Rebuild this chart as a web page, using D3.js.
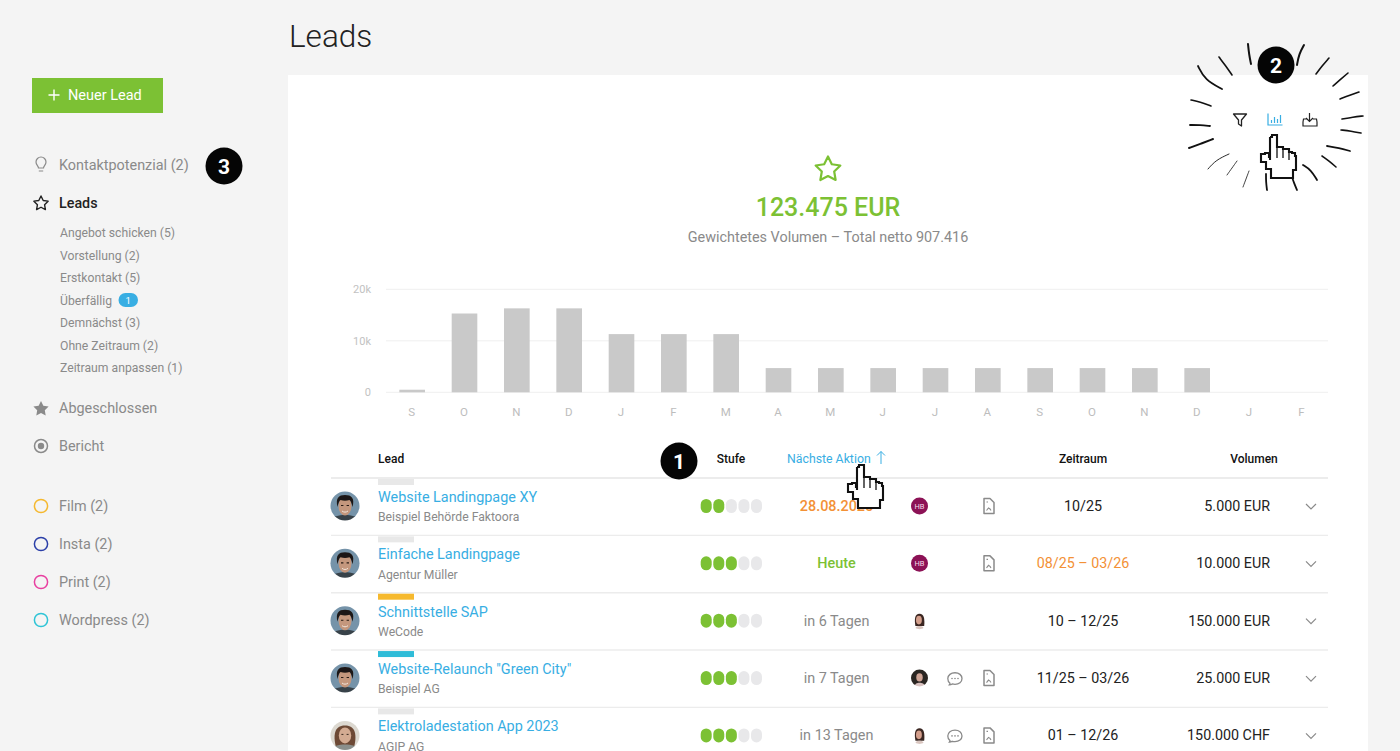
<!DOCTYPE html>
<html lang="de">
<head>
<meta charset="utf-8">
<title>Leads</title>
<script src="https://cdn.jsdelivr.net/npm/d3@7"></script>
<style>
html, body { margin: 0; padding: 0; background: #f4f4f4; overflow: hidden; }
svg { display: block; }
text { font-family: Roboto, "Open Sans", sans-serif; }
.axis path { display: none; }
</style>
</head>
<body>
<div id="chart"></div>
<script>
// chart values
var months = ["S","O","N","D","J","F","M","A","M","J","J","A","S","O","N","D","J","F"];
var volumes = [500,15300,16300,16300,11300,11300,11300,4700,4700,4700,4700,4700,4700,4700,4700,4700,0,0];
var yTicks = [0,10000,20000];

// table
var leadNames = ["Website Landingpage XY","Einfache Landingpage","Schnittstelle SAP",'Website-Relaunch "Green City"',"Elektroladestation App 2023"];
var leadCompanies = ["Beispiel Behörde Faktoora","Agentur Müller","WeCode","Beispiel AG","AGIP AG"];
var leadTags = ["#e8e8e8","#e8e8e8","#f6b92e","#2fbcd8","#e8e8e8"];
var leadSteps = [2,3,3,3,3];
var leadActions = ["28.08.2025","Heute","in 6 Tagen","in 7 Tagen","in 13 Tagen"];
var actionColors = ["#f39136","#7cc134","#8a8a8a","#8a8a8a","#8a8a8a"];
var leadOwners = ["hb","hb","woman","dark","woman"];
var hasComment = [false,false,false,true,true];
var hasDoc = [true,true,false,true,true];
var leadPeriods = ["10/25","08/25 – 03/26","10 – 12/25","11/25 – 03/26","01 – 12/26"];
var periodColors = ["#222","#f39136","#222","#222","#222"];
var leadVolumes = ["5.000 EUR","10.000 EUR","150.000 EUR","25.000 EUR","150.000 CHF"];
var leadAvatars = ["man","man","man","man","lady"];

// sidebar
var subItems = ["Angebot schicken (5)","Vorstellung (2)","Erstkontakt (5)","Überfällig","Demnächst (3)","Ohne Zeitraum (2)","Zeitraum anpassen (1)"];
var tagItems = ["Film (2)","Insta (2)","Print (2)","Wordpress (2)"];
var tagColors = ["#f5b82e","#2b3fa8","#e83fa0","#2ec4d6"];

var green = "#7cc134", blue = "#38aee3", grey = "#8a8a8a";

var svg = d3.select("#chart").append("svg").attr("width",1400).attr("height",751);

svg.append("filter").attr("id","soft").append("feGaussianBlur").attr("stdDeviation",0.5);

svg.append("rect").attr("width",1400).attr("height",751).attr("fill","#f4f4f4");
svg.append("rect").attr("x",288).attr("y",75).attr("width",1080).attr("height",676).attr("fill","#fff");

function label(parent,x,y,txt,size,color,weight,anchor){
	return parent.append("text").attr("x",x).attr("y",y).attr("dy","0.35em")
	.attr("font-size",size).attr("fill",color).attr("font-weight",weight||400)
	.attr("text-anchor",anchor||"start").text(txt);
}

// five pointed star with fat arms, r = outer radius
function starPath(r){
	var pts = d3.range(10).map(function(i){
		var a = i*Math.PI/5;
		return [a, i%2 ? r*0.5 : r];
	});
	return d3.lineRadial().curve(d3.curveLinearClosed)(pts);
}

label(svg,289,36,"Leads",31.5,"#222",300);

// ---- sidebar ----
svg.append("rect").attr("x",32).attr("y",78).attr("width",131).attr("height",35).attr("fill",green);
svg.append("path").attr("d","M48.5 95h11M54 89.5v11").attr("stroke","#fff").attr("stroke-width",1.4);
label(svg,68,95,"Neuer Lead",14.5,"#fff");

label(svg,59,165,"Kontaktpotenzial (2)",14.4,grey);
label(svg,59,203,"Leads",14.3,"#222",500);
label(svg,59,408,"Abgeschlossen",14.4,grey);
label(svg,59,446,"Bericht",14.4,grey);

// bulb
svg.append("path").attr("d","M38.5 168c0-2-2.500-3-2.500-6a5 5 0 0 1 10 0c0 3-2.500 4-2.500 6zM38.800 171h4.400")
.attr("fill","none").attr("stroke",grey).attr("stroke-width",1.2);

svg.append("path").attr("d",starPath(7.5)).attr("transform","translate(41,203.5)")
.attr("fill","none").attr("stroke","#222").attr("stroke-width",1.4).attr("stroke-linejoin","round");
svg.append("path").attr("d",starPath(8)).attr("transform","translate(41,409)").attr("fill",grey);
svg.append("circle").attr("cx",41).attr("cy",446).attr("r",6.5).attr("fill","none").attr("stroke",grey).attr("stroke-width",1.5);
svg.append("circle").attr("cx",41).attr("cy",446).attr("r",3.2).attr("fill",grey);

var subY = d3.scaleLinear().domain([0,6]).range([233,368]);
svg.selectAll(".sub").data(subItems).enter().append("text").attr("class","sub")
.attr("x",60).attr("y",(d,i)=>subY(i)).attr("dy","0.35em")
.attr("font-size",12.2).attr("fill",grey).text(d=>d);
svg.append("rect").attr("x",118.5).attr("y",293).attr("width",19.5).attr("height",14).attr("rx",7).attr("fill",blue);
label(svg,128.2,300.3,"1",9.5,"#fff",400,"middle");

var tagY = d3.scaleLinear().domain([0,3]).range([506,620]);
svg.selectAll(".tag").data(tagItems).enter().append("text").attr("class","tag")
.attr("x",59).attr("y",(d,i)=>tagY(i)).attr("dy","0.35em")
.attr("font-size",14.4).attr("fill",grey).text(d=>d);
svg.selectAll(".tagc").data(tagColors).enter().append("circle").attr("class","tagc")
.attr("cx",41).attr("cy",(d,i)=>tagY(i)).attr("r",6.6)
.attr("fill","none").attr("stroke",d=>d).attr("stroke-width",1.5);

// ---- summary ----
svg.append("path").attr("d",starPath(13)).attr("transform","translate(828,169.5)")
.attr("fill","none").attr("stroke",green).attr("stroke-width",2.2).attr("stroke-linejoin","round");
label(svg,828,207,"123.475 EUR",25,green,500,"middle");
label(svg,828,237,"Gewichtetes Volumen – Total netto 907.416",14.4,grey,400,"middle");

// ---- bars ----
var x = d3.scaleBand().domain(d3.range(months.length)).range([386,1328]).paddingInner(0.51).paddingOuter(0.255);
var y = d3.scaleLinear().domain([0,20000]).range([392.3,289.3]);

svg.append("g").selectAll("line").data(yTicks).enter().append("line")
.attr("x1",386).attr("x2",1328).attr("y1",d=>y(d)).attr("y2",d=>y(d))
.attr("stroke","#efefef").attr("stroke-width",1);

svg.append("g").attr("class","axis").attr("transform","translate(371,0)")
.call(d3.axisLeft(y).tickValues(yTicks).tickSize(0).tickPadding(0).tickFormat(d=>d ? (d/1000)+"k" : "0"))
.selectAll("text").attr("font-size",11).attr("fill","#c2c2c2").style("font-family","Roboto");

svg.append("g").attr("class","axis").attr("transform","translate(-0.5,408)")
.call(d3.axisBottom(x).tickSize(0).tickPadding(0).tickFormat(i=>months[i]))
.selectAll("text").attr("font-size",11.5).attr("fill","#bdbdbd").style("font-family","Roboto");

svg.append("g").selectAll("rect").data(volumes).enter().append("rect")
.attr("x",(d,i)=>x(i)).attr("width",x.bandwidth())
.attr("y",d=>y(d)).attr("height",d=>y(0)-y(d)).attr("fill","#c9c9c9");

// ---- table head ----
label(svg,378,459,"Lead",12,"#111",500);
label(svg,731,459,"Stufe",12,"#111",500,"middle");
label(svg,787,459,"Nächste Aktion",12.3,blue);
svg.append("path").attr("d","M881 464v-12.5M877 455.5l4-4 4 4").attr("fill","none").attr("stroke",blue).attr("stroke-width",1);
label(svg,1083,459,"Zeitraum",12,"#111",500,"middle");
label(svg,1254,459,"Volumen",12,"#111",500,"middle");

// ---- table rows ----
var rowY = d3.scaleLinear().domain([0,4]).range([506,735.4]);
var lineY = i => rowY(i)-28;

svg.append("g").selectAll("line").data(d3.range(5)).enter().append("line")
.attr("x1",331).attr("x2",1328).attr("y1",lineY).attr("y2",lineY)
.attr("stroke","#ececec").attr("stroke-width",(d,i)=>i==0?2:1.4);

function avatar(g,cx,cy,r,kind,id){
	var c = g.append("g").attr("transform","translate("+cx+","+cy+") scale("+(r/14.5)+")");
	var clip = "av"+id;
	c.append("clipPath").attr("id",clip).append("circle").attr("r",14.5);
	var a = c.append("g").attr("clip-path","url(#"+clip+")").append("g").attr("filter","url(#soft)");
	if(kind=="man"){
		a.append("rect").attr("x",-16).attr("y",-16).attr("width",32).attr("height",32).attr("fill","#7593a9");
		a.append("path").attr("d","M-15 16c2-6 9-7 15-7s13 1 15 7z").attr("fill","#37424a");
		a.append("ellipse").attr("cy",0).attr("rx",6.5).attr("ry",9.5).attr("fill","#c4977d");
		a.append("path").attr("d","M-7.500 1c-2-9 1-12 7.500-12s10 3 7.500 12c-1-4-1.500-6-3-7-3 1-6 1-9 0-1.500 1-2 3-3 7z").attr("fill","#1f1916");
		a.append("path").attr("d","M-4-.5h2.400M1.600-.5h2.400").attr("stroke","#2a1c14").attr("stroke-width",1.1);
		a.append("path").attr("d","M-3 5c2 1.500 4 1.500 6 0").attr("stroke","#f3e6dc").attr("stroke-width",1).attr("fill","none");
	} else if(kind=="lady"){
		a.append("rect").attr("x",-16).attr("y",-16).attr("width",32).attr("height",32).attr("fill","#dcd8d0");
		a.append("path").attr("d","M-9 12c-3-12-2-22 9-22s12 10 9 22z").attr("fill","#6d4a35");
		a.append("path").attr("d","M-15 16c2-6 9-7 15-7s13 1 15 7z").attr("fill","#8a8f8c");
		a.append("ellipse").attr("cy",0).attr("rx",6.2).attr("ry",8).attr("fill","#d3ab92");
		a.append("path").attr("d","M-3.600-1h2M1.600-1h2").attr("stroke","#3a2a20").attr("stroke-width",1);
	} else if(kind=="woman"){
		a.append("path").attr("d","M-7 9c-2-12-1-21 7-21s9 9 8 21z").attr("fill","#3a2620");
		a.append("path").attr("d","M-8 16c1-6 4-7 8-7s7 1 8 7z").attr("fill","#d9c6c0");
		a.append("ellipse").attr("cx",-1).attr("cy",-1).attr("rx",5).attr("ry",7.5).attr("fill","#d49f8c");
	} else {
		a.append("rect").attr("x",-16).attr("y",-16).attr("width",32).attr("height",32).attr("fill","#2c2624");
		a.append("path").attr("d","M-9 16c1-7 5-8 9-8s9 1 10 8z").attr("fill","#d9c2c0");
		a.append("ellipse").attr("cx",0).attr("cy",-1).attr("rx",5.5).attr("ry",7).attr("fill","#cfa596");
	}
}

function docIcon(g,cx,cy){
	var d = g.append("g").attr("transform","translate("+cx+","+cy+")").attr("fill","none").attr("stroke",grey).attr("stroke-width",1.5);
	d.append("path").attr("d","M-5-7.500h6l4 4v11h-10z").attr("stroke-linejoin","round");
	d.append("path").attr("d","M-2.500 4.500l2-2.500 1.500 1 1 1.500M-2.500-4h1.500").attr("stroke-width",1.1);
}

function commentIcon(g,cx,cy){
	var c = g.append("g").attr("transform","translate("+cx+","+cy+")");
	c.append("path").attr("d","M-5 5.200c-1.500-1-2.200-3-2.200-4.700 0-3.400 3.200-5.800 7.200-5.800s7 2.400 7 5.800-3 5.800-7 5.800c-1 0-2-.2-2.800-.4-.6.4-1.500.8-2.800.8.400-.5.600-1.100.600-1.500z")
	.attr("fill","none").attr("stroke",grey).attr("stroke-width",1.3);
	c.selectAll("circle").data([-3,0,3]).enter().append("circle").attr("cx",d=>d).attr("cy",0.5).attr("r",0.8).attr("fill",grey);
}

var pillX = d3.scaleLinear().domain([0,4]).range([706.2,756.5]);

leadNames.forEach(function(name,i){
	var cy = rowY(i);
	var row = svg.append("g");
	row.append("rect").attr("x",378).attr("y",lineY(i)+1).attr("width",36).attr("height",6).attr("fill",leadTags[i]);
	avatar(row,345,cy,14.5,leadAvatars[i],"m"+i);
	label(row,378,cy-9,name,14.4,blue);
	label(row,378,cy+11,leadCompanies[i],12.2,grey);
	row.selectAll("rect.p").data(d3.range(5)).enter().append("rect").attr("class","p")
	.attr("x",d=>pillX(d)-5.5).attr("y",cy-7).attr("width",11).attr("height",14).attr("rx",5.5)
	.attr("fill",d=>d<leadSteps[i]?green:"#e8e8ea");
	label(row,836.5,cy,leadActions[i],14.4,actionColors[i],i<2?500:400,"middle");
	if(leadOwners[i]=="hb"){
		row.append("circle").attr("cx",919.5).attr("cy",cy).attr("r",8.5).attr("fill","#8c1256");
		label(row,919.5,cy+0.3,"HB",7.5,"#f3dce8",400,"middle");
	} else {
		avatar(row,919.5,cy,8.5,leadOwners[i],"o"+i);
	}
	if(hasComment[i]) commentIcon(row,955,cy);
	if(hasDoc[i]) docIcon(row,989,cy);
	label(row,1083,cy,leadPeriods[i],14.3,periodColors[i],400,"middle");
	label(row,1270,cy,leadVolumes[i],14.3,"#222",400,"end");
	row.append("path").attr("d","M1306 "+(cy-2)+"l5 5 5-5").attr("fill","none").attr("stroke",grey).attr("stroke-width",1.2);
});

// ---- top right tools ----
svg.append("path").attr("d","M1233.5 114h13l-5 6v6l-3-2v-4z").attr("fill","none").attr("stroke","#222").attr("stroke-width",1.3).attr("stroke-linejoin","round");
svg.append("path").attr("d","M1268 113.5v11.500h14.500").attr("fill","none").attr("stroke",blue).attr("stroke-width",1.2);
svg.append("path").attr("d","M1271.5 123v-3M1274.5 123v-6M1277.5 123v-4M1280.5 123v-8").attr("stroke",blue).attr("stroke-width",1.2);
svg.append("path").attr("d","M1309.5 113v8M1306 118l3.500 3.500 3.500-3.500M1307 119h-3.500l-.5 3v4h14v-4l-.5-3h-3.500").attr("fill","none").attr("stroke","#222").attr("stroke-width",1.2);

// ---- burst strokes around number 2 ----
var burst = [
	[[1248,44],[1249,54],[1251,64],2],
	[[1304,45],[1299,54],[1297,65],2],
	[[1329,58],[1322,66],[1316,74],1.6],
	[[1348,73],[1341,79],[1333,86],1.6],
	[[1359,92],[1350,95],[1340,99],1.6],
	[[1363,116],[1353,117],[1342,119],1.6],
	[[1361,133],[1351,131],[1341,130],1.6],
	[[1350,151],[1339,148],[1327,146],1.8],
	[[1336,167],[1329,161],[1322,156],1.6],
	[[1317,180],[1311,170],[1303,165],1.8],
	[[1297,190],[1294,183],[1292,177],1.8],
	[[1267,190],[1266,182],[1266,174],1.8],
	[[1243,187],[1246,179],[1249,171],0.8],
	[[1227,175],[1232,168],[1237,161],0.8],
	[[1208,169],[1216,160],[1229,154],0.9],
	[[1189,148],[1200,144],[1213,139],2],
	[[1190,125],[1200,125],[1210,126],1.8],
	[[1191,100],[1200,102],[1211,106],1.6],
	[[1198,66],[1205,80],[1222,89],1.8],
	[[1219,57],[1225,65],[1232,75],1.6]
];
var burstLine = d3.line().curve(d3.curveBasis);
svg.append("g").selectAll("path").data(burst).enter().append("path")
.attr("d",d=>burstLine(d.slice(0,3))).attr("fill","none").attr("stroke","#111")
.attr("stroke-width",d=>d[3]).attr("stroke-linecap","round");

// ---- pointer hands ----
var handOutline = [[0,2],[2,0],[5,0],[7,2],[7,12],[11,12],[13,14],[17,14],[19,17],[22,18],[25,21],[26,35],[23,43],[4,43],[1,34],[-4,27],[-9,22],[-9,19],[-5,18],[-1,22],[0,25],[0,2]];
var handLine = d3.line().curve(d3.curveStepAfter);
function hand(px,py){
	var h = svg.append("g").attr("transform","translate("+px+","+py+")");
	h.append("path").attr("d",handLine(handOutline)).attr("fill","#fff").attr("stroke","#111").attr("stroke-width",2.1);
	h.append("path").attr("d","M7 12v11M13 14v9M19 17v8").attr("stroke","#111").attr("stroke-width",1.3);
}
hand(1270,135);
hand(857,465);

// ---- numbered badges ----
var badgeX = [679,1276,224], badgeY = [461,65,166], badgeText = ["1","2","3"];
badgeText.forEach(function(t,i){
	svg.append("circle").attr("cx",badgeX[i]).attr("cy",badgeY[i]).attr("r",18.5).attr("fill","#050505");
	label(svg,badgeX[i],badgeY[i]+0.5,t,21,"#fff",700,"middle");
});
</script>
</body>
</html>
